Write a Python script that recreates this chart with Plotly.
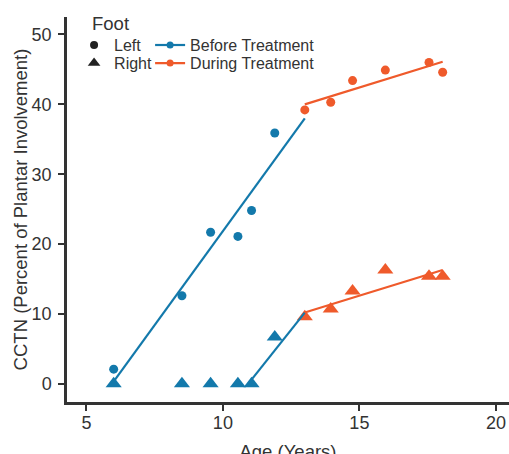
import plotly.graph_objects as go

# Data
ages_before = [6, 8.5, 9.55, 10.55, 11.05, 11.9]
ages_during = [13, 13.95, 14.75, 15.95, 17.55, 18.05]
left_before = [2.1, 12.6, 21.7, 21.1, 24.8, 35.9]
right_before = [0, 0, 0, 0, 0, 6.7]
left_during = [39.2, 40.3, 43.4, 44.9, 46.0, 44.6]
right_during = [9.6, 10.7, 13.3, 16.3, 15.4, 15.4]

fit_left_before_x = [6.03, 13]
fit_left_before_y = [0.5, 38.0]
fit_right_before_x = [11.05, 13]
fit_right_before_y = [0.6, 10.2]
fit_left_during_x = [13, 18.05]
fit_left_during_y = [40.0, 46.1]
fit_right_during_x = [13, 18.05]
fit_right_during_y = [10.2, 16.3]

x_ticks = [5, 10, 15, 20]
y_ticks = [0, 10, 20, 30, 40, 50]

BLUE = "#1379ab"
ORANGE = "#ef5a2b"
TXT = "#333333"
FONT = "Liberation Sans, Arial, sans-serif"

fig = go.Figure()

def pts(x, y, color, symbol, size):
    fig.add_trace(go.Scatter(x=x, y=y, mode="markers", showlegend=False,
                             marker=dict(color=color, symbol=symbol, size=size, line=dict(width=0))))

def ln(x, y, color):
    fig.add_trace(go.Scatter(x=x, y=y, mode="lines", showlegend=False,
                             line=dict(color=color, width=2.2)))

pts(ages_before, left_before, BLUE, "circle", 9)
pts(ages_before, right_before, BLUE, "triangle-up", 14)
pts(ages_during, left_during, ORANGE, "circle", 9)
pts(ages_during, right_during, ORANGE, "triangle-up", 14)
ln(fit_left_before_x, fit_left_before_y, BLUE)
ln(fit_right_before_x, fit_right_before_y, BLUE)
ln(fit_left_during_x, fit_left_during_y, ORANGE)
ln(fit_right_during_x, fit_right_during_y, ORANGE)

# legend entries (one legend per entry for exact placement)
fig.add_trace(go.Scatter(x=[None], y=[None], mode="markers", name="Left", legend="legend",
                         marker=dict(color="#222222", symbol="circle", size=8)))
fig.add_trace(go.Scatter(x=[None], y=[None], mode="markers", name="Right", legend="legend2",
                         marker=dict(color="#222222", symbol="triangle-up", size=11)))
fig.add_trace(go.Scatter(x=[None], y=[None], mode="lines+markers", name="Before Treatment", legend="legend3",
                         line=dict(color=BLUE, width=2.2), marker=dict(color=BLUE, size=7)))
fig.add_trace(go.Scatter(x=[None], y=[None], mode="lines+markers", name="During Treatment", legend="legend4",
                         line=dict(color=ORANGE, width=2.2), marker=dict(color=ORANGE, size=7)))

axis_common = dict(showline=True, linecolor=TXT, linewidth=2.5, ticks="outside", ticklen=6,
                   tickwidth=2, tickcolor=TXT, showgrid=False, zeroline=False, automargin=False,
                   tickfont=dict(size=18, color=TXT, family=FONT))

def leg(x, y):
    return dict(x=x, y=y, xanchor="left", yanchor="middle", bgcolor="rgba(0,0,0,0)",
                font=dict(size=16, color=TXT, family=FONT), itemclick=False, itemdoubleclick=False)

fig.update_layout(
    template="none",
    width=509, height=462,
    margin=dict(l=67, r=0, t=17, b=60),
    paper_bgcolor="white", plot_bgcolor="white",
    font=dict(family=FONT, color=TXT),
    xaxis=dict(range=[4.29, 20.48], tickvals=x_ticks, ticklabelstandoff=-3,
               title=dict(text="Age (Years)", font=dict(size=18.5, color=TXT), standoff=22),
               **axis_common),
    yaxis=dict(range=[-2.6, 52.5], tickvals=y_ticks, ticklabelstandoff=3,
               title=dict(text="CCTN (Percent of Plantar Involvement)", font=dict(size=18.5, color=TXT), standoff=0),
               **axis_common),
    legend=leg(0.016, 0.927),
    legend2=leg(0.016, 0.880),
    legend3=leg(0.188, 0.927),
    legend4=leg(0.188, 0.880),
    annotations=[dict(text="Foot", xref="paper", yref="paper", x=0.052, y=0.984,
                      xanchor="left", yanchor="middle", showarrow=False,
                      font=dict(size=18.5, color=TXT, family=FONT))],
)

fig.write_html("out.html", config={"displayModeBar": False},
               post_script="document.body.style.margin='0';document.documentElement.style.overflow='hidden';")
